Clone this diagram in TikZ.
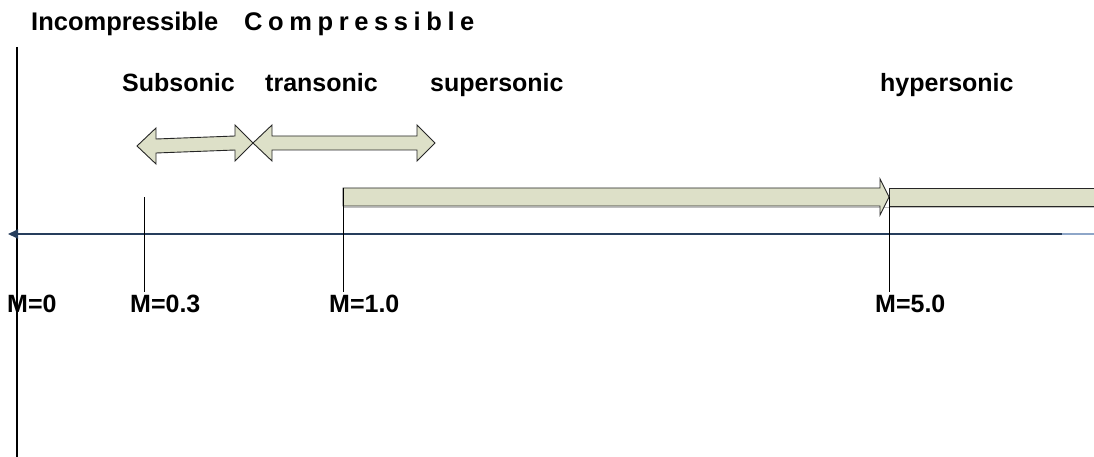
\documentclass[tikz,border=0pt]{standalone}
\usepackage{fontspec}
\setmainfont{Liberation Sans}
\usetikzlibrary{arrows.meta}
\definecolor{bandfill}{RGB}{221,224,200}
\definecolor{axisblue}{RGB}{38,61,92}
\definecolor{axisfade}{RGB}{142,166,200}
\newcommand{\gap}{\hspace{5.6pt}}
\begin{document}
\begin{tikzpicture}[x=1pt, y=-1pt,
    every node/.style={font=\fontsize{25}{30}\selectfont\bfseries, inner sep=0pt, anchor=base west},
    head/.style={font=\fontsize{25.5}{30}\selectfont\bfseries},
    band/.style={fill=bandfill, draw=black!85, line width=0.9pt, line join=miter},
    shade/.style={draw=black!25, line width=1.2pt}]
    \useasboundingbox (0,0) rectangle (1094,457);
    \node[head] (incomp) at (31,31) {Incompressible};
    \node[head] (comp) at (244,31) {C\gap o\gap m\gap p\gap r\gap e\gap s\gap s\gap i\gap b\gap l\gap e};
    \foreach \name/\px in {Subsonic/122, transonic/265, supersonic/430, hypersonic/880} {
        \node (\name) at (\px,92) {\name};
    }
    \coordinate (vtop) at (17,47);
    \coordinate (vbot) at (17,457);
    \draw[line width=1.5pt] (vtop) -- (vbot);
    \coordinate (axL) at (8,234);
    \coordinate (axF) at (1062,234);
    \coordinate (axR) at (1094,234);
    \draw[axisblue, line width=1.8pt, -{Triangle[length=10pt, width=9pt]}] (axF) -- (axL);
    \draw[axisfade, line width=1.8pt] (axF) -- (axR);
    \draw[band] (137,146) -- (156,128) -- (156,139) -- (235,136) -- (235,125) -- (253,143) -- (235,161) -- (235,150) -- (156,153) -- (156,164) -- cycle;
    \draw[band] (253,143) -- (272,125) -- (272,136) -- (417,136) -- (417,125) -- (435,143) -- (417,161) -- (417,150) -- (272,150) -- (272,161) -- cycle;
    \draw[shade] (344,207.5) -- (1094,207.5);
    \draw[band] (343,188) -- (880,188) -- (880,179) -- (889,197) -- (880,215) -- (880,206) -- (343,206) -- cycle;
    \draw[band] (1098,188) -- (889,188) -- (889,206) -- (1098,206) -- cycle;
    \node (m0) at (7,312) {M=0};
    \foreach \tx/\ty/\lx/\val [count=\k] in {144/197/130/0.3, 343/188/329/1.0, 889/197/875/5.0} {
        \node (m\k) at (\lx,312) {M=\val};
        \coordinate (t\k) at (\tx,\ty);
        \draw[line width=0.9pt, shorten >=2pt] (t\k) -- (t\k |- m\k.north);
    }
\end{tikzpicture}
\end{document}
